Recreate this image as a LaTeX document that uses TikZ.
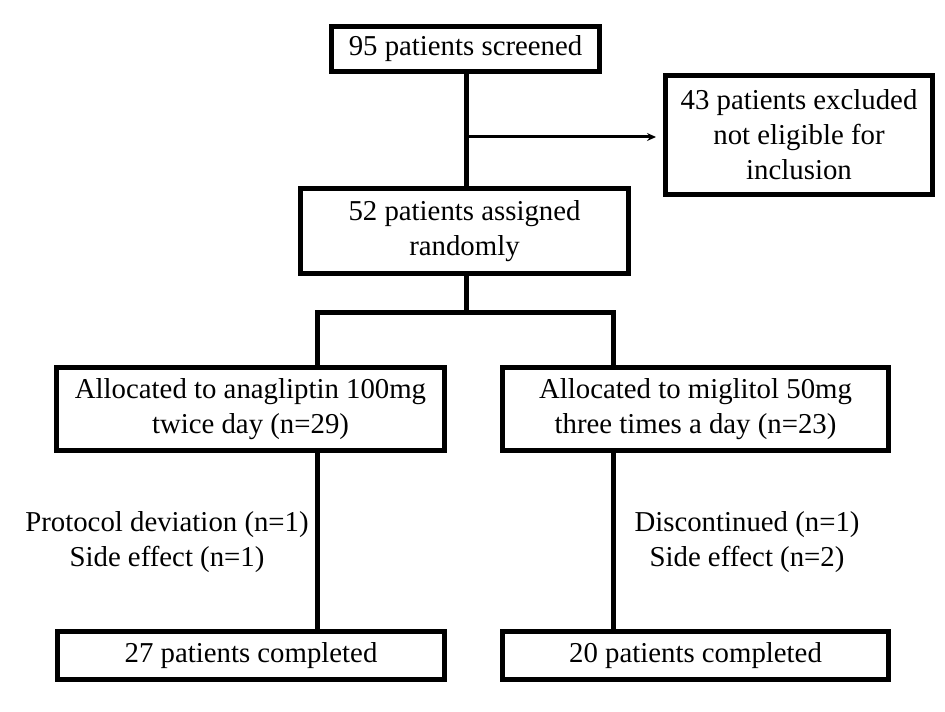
\documentclass[tikz,border=0pt]{standalone}
\usepackage{fontspec}
\setmainfont{Liberation Serif}
\usetikzlibrary{arrows.meta}
\begin{document}
\begin{tikzpicture}[x=0.5pt, y=-0.5pt, >={Stealth[length=4.5pt,width=4pt]},
  box/.style={shape=rectangle, draw=black, line width=2.5pt, inner sep=0pt, align=center, font=\fontsize{14.4}{17.5}\selectfont},
  reason/.style={inner sep=0pt, align=center, font=\fontsize{14.4}{17.5}\selectfont},
  link/.style={-, line width=2.5pt, draw=black, line join=miter}]
\useasboundingbox (0,0) rectangle (945,711);
\node[box, minimum width=134pt, minimum height=22.5pt] (screen) at (465.5,49) {95 patients screened};
\node[box, minimum width=133.5pt, minimum height=59.5pt] (excl) at (799,135) {43 patients excluded\\not eligible for\\inclusion};
\node[box, minimum width=164pt, minimum height=42.5pt] (rand) at (464.5,231) {52 patients assigned\\randomly};
\node[box, minimum width=194pt, minimum height=41.5pt] (anag) at (250.5,409) {Allocated to anagliptin 100mg\\twice day (n=29)};
\node[box, minimum width=193pt, minimum height=41.5pt] (migl) at (695.5,409) {Allocated to miglitol 50mg\\three times a day (n=23)};
\node[box, minimum width=193.5pt, minimum height=24pt] (done1) at (251,655.5) {27 patients completed};
\node[box, minimum width=193pt, minimum height=24pt] (done2) at (695.5,655.5) {20 patients completed};
\node[reason] (lost1) at (167,542) {Protocol deviation (n=1)\\Side effect (n=1)};
\node[reason] (lost2) at (747,542) {Discontinued (n=1)\\Side effect (n=2)};
\coordinate (fork) at (466,137);
\coordinate (split) at (466,312);
\coordinate (la) at (317,312);
\coordinate (ra) at (613,312);
\path [link] (fork |- screen.south) edge (fork |- rand.north);
\draw [->, line width=1.5pt, shorten >=3.5pt] (fork) -- (fork -| excl.west);
\path [link] (split |- rand.south) edge (split);
\draw [link] (la |- anag.north) -- (la) -- (ra) -- (ra |- migl.north);
\path [link] (la |- anag.south) edge (la |- done1.north);
\path [link] (ra |- migl.south) edge (ra |- done2.north);
\end{tikzpicture}
\end{document}
